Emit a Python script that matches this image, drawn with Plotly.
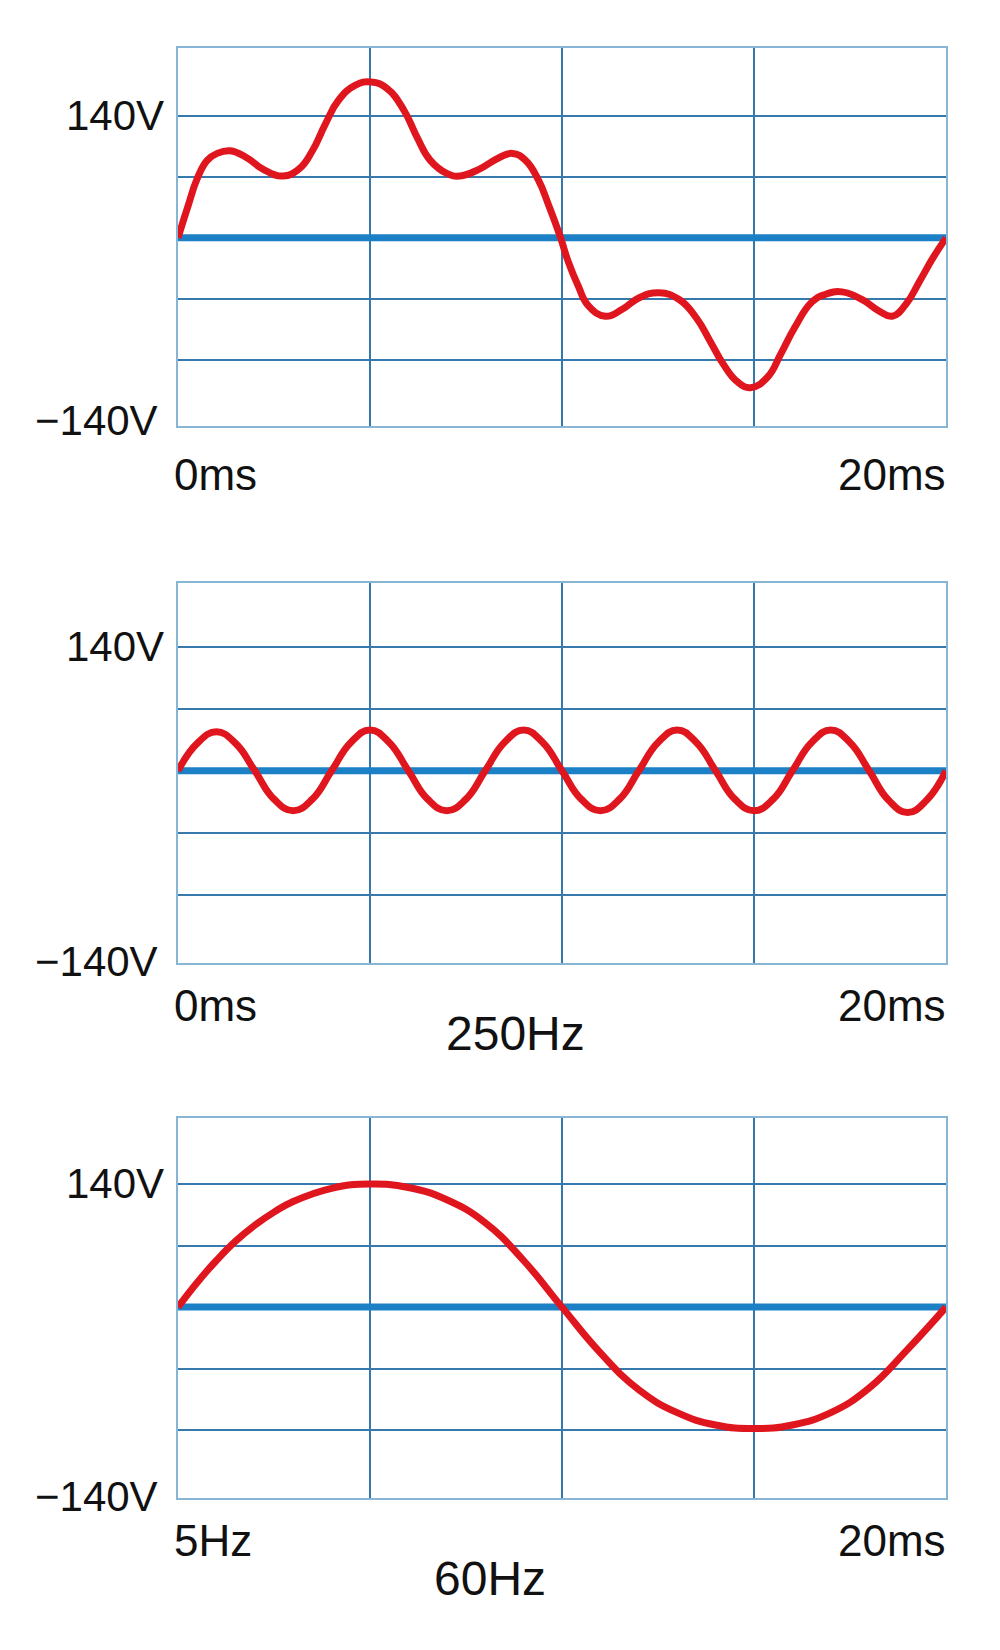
import plotly.graph_objects as go

# ---------------- data ----------------
# Panel 1: distorted waveform (ms, V)
t1 = [0, 0.25, 0.5, 0.76, 1.02, 1.36, 1.79, 2.21, 2.73, 3.15, 3.5, 3.84, 4.18, 4.61,
      5.03, 5.46, 5.89, 6.23, 6.57, 7.0, 7.34, 7.85, 8.36, 8.71, 9.05, 9.39, 9.64, 9.95,
      10.16, 10.42, 10.69, 11.13, 11.57, 12.0, 12.53, 13.06, 13.5, 13.85, 14.2, 14.56,
      14.91, 15.35, 15.7, 16.06, 16.5, 16.85, 17.29, 17.82, 18.26, 18.6, 18.96, 19.31,
      19.66, 20.0]
v1 = [0, 35, 68, 89, 97, 100, 92, 79, 71, 79, 100, 131, 158, 175,
      179, 171, 146, 115, 89, 74, 71, 79, 92, 97, 89, 66, 39, 2,
      -27, -55, -78, -90, -82, -69, -63, -71, -92, -118, -145, -165,
      -172, -160, -133, -103, -74, -65, -62, -71, -84, -90, -76, -50,
      -23, 0]

# Panel 2: 250 Hz waveform (ms, V)
t2 = [0, 0.5, 1, 1.5, 2, 2.5, 3, 3.5, 4, 4.5, 5, 5.5, 6, 6.5, 7, 7.5, 8, 8.5, 9, 9.5,
      10, 10.5, 11, 11.5, 12, 12.5, 13, 13.5, 14, 14.5, 15, 15.5, 16, 16.5, 17, 17.5,
      18, 18.5, 19, 19.5, 20]
v2 = [0, 31, 44, 31, 0, -32, -45, -32, 0, 32, 46, 32, 0, -32, -45, -32, 0, 32, 46, 32,
      0, -32, -45, -32, 0, 32, 46, 32, 0, -32, -45, -32, 0, 32, 46, 32,
      0, -33, -47, -33, 0]

# Panel 3: fundamental waveform (ms, V)
t3 = [0, 0.5, 1, 1.5, 2, 2.5, 3, 4, 5, 6, 7, 8, 9, 10, 11, 12, 13, 14, 15, 16, 17, 18, 19, 20]
v3 = [0, 28, 53, 75, 93, 108, 120, 135, 140, 136, 122, 96, 53, 0, -52, -94, -120, -134,
      -138, -134, -120, -92, -48, 0]

# Zero reference line
base_t = [0, 20]
base_v = [0, 0]

# Grid values and labels
grid_v = [-140, -70, 0, 70, 140]
grid_t = [0, 5, 10, 15, 20]
y_top_label = "140V"
y_bot_label = "\u2212140V"
x_left_labels = ["0ms", "0ms", "5Hz"]
x_right_labels = ["20ms", "20ms", "20ms"]
captions = [None, "250Hz", "60Hz"]

# ---------------- styling ----------------
W, H = 1000, 1650
RED = "#e0161e"
BLUE = "#1b80c6"
GRID = "#3679ad"
BORDER = "#86b6d4"
FONT = "Liberation Sans, Arial, sans-serif"

def py(p):
    return 1 - p / H

panels = [
    dict(top=48, bottom=426, yr=[-216, 218], t=t1, v=v1),
    dict(top=583, bottom=963, yr=[-217, 212], t=t2, v=v2),
    dict(top=1118, bottom=1498, yr=[-217, 215], t=t3, v=v3),
]
x_dom = [178 / W, 946 / W]

fig = go.Figure()
layout = dict(
    width=W, height=H, margin=dict(l=0, r=0, t=0, b=0),
    paper_bgcolor="white", plot_bgcolor="white", showlegend=False,
    annotations=[],
)

for i, p in enumerate(panels):
    n = "" if i == 0 else str(i + 1)
    xa, ya = "x" + n, "y" + n
    fig.add_trace(go.Scatter(x=base_t, y=base_v, mode="lines", xaxis=xa, yaxis=ya,
                             line=dict(color=BLUE, width=7), hoverinfo="skip"))
    fig.add_trace(go.Scatter(x=p["t"], y=p["v"], mode="lines", xaxis=xa, yaxis=ya,
                             line=dict(color=RED, width=7, shape="spline", smoothing=1.3)))
    layout["xaxis" + n] = dict(domain=x_dom, range=[0, 20], tickmode="array", tickvals=grid_t,
                               showgrid=True, gridcolor=GRID, gridwidth=1.5,
                               showline=True, linecolor=BORDER, linewidth=2, mirror=True,
                               zeroline=False, showticklabels=False, ticks="",
                               anchor=ya, fixedrange=True)
    layout["yaxis" + n] = dict(domain=[py(p["bottom"]), py(p["top"])], range=p["yr"],
                               tickmode="array", tickvals=grid_v,
                               showgrid=True, gridcolor=GRID, gridwidth=1.5,
                               showline=True, linecolor=BORDER, linewidth=2, mirror=True,
                               zeroline=False, showticklabels=False, ticks="",
                               anchor=xa, fixedrange=True)
    layout["annotations"].append(dict(text=y_top_label, xref="paper", yref=ya, x=0.166, y=140,
                                      xanchor="right", yanchor="middle", showarrow=False,
                                      font=dict(size=42, color="#111", family=FONT)))
    layout["annotations"].append(dict(text=y_bot_label, xref="paper", yref="paper", x=0.160,
                                      y=py(p["bottom"] - (5 if i == 0 else 2)),
                                      xanchor="right", yanchor="middle", showarrow=False,
                                      font=dict(size=42, color="#111", family=FONT)))
    lab_y = p["bottom"] + (48 if i == 0 else 42)
    layout["annotations"].append(dict(text=x_left_labels[i], xref="paper", yref="paper",
                                      x=0.172, y=py(lab_y), xanchor="left", yanchor="middle",
                                      showarrow=False,
                                      font=dict(size=44, color="#111", family=FONT)))
    layout["annotations"].append(dict(text=x_right_labels[i], xref="paper", yref="paper",
                                      x=0.948, y=py(lab_y), xanchor="right", yanchor="middle",
                                      showarrow=False,
                                      font=dict(size=44, color="#111", family=FONT)))
    if captions[i]:
        cap_y = 1033 if i == 1 else 1578
        cap_x = 0.515 if i == 1 else 0.490
        layout["annotations"].append(dict(text=captions[i], xref="paper", yref="paper",
                                          x=cap_x, y=py(cap_y), xanchor="center",
                                          yanchor="middle", showarrow=False,
                                          font=dict(size=48, color="#111", family=FONT)))

fig.update_layout(**layout)
fig.write_html("out.html", config={"displayModeBar": False})
